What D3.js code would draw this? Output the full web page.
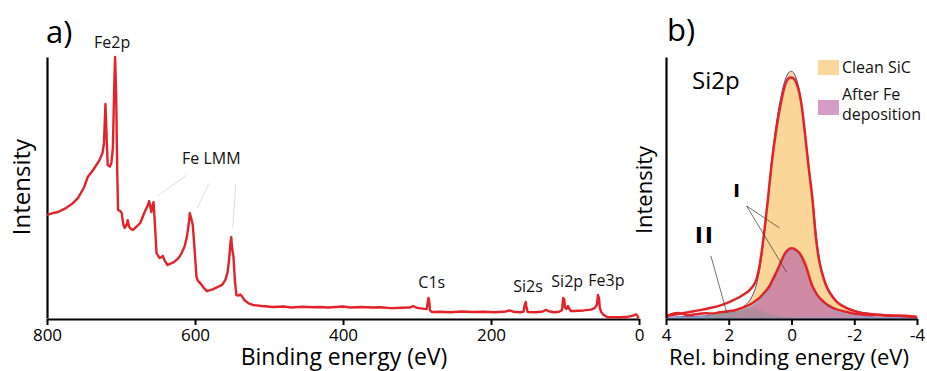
<!DOCTYPE html>
<html>
<head>
<meta charset="utf-8">
<script src="https://cdn.jsdelivr.net/npm/d3@7/dist/d3.min.js"></script>
<style>
  body { margin: 0; background: #fff; }
  svg { font-family: 'Open Sans', sans-serif; }
</style>
</head>
<body>
<svg id="chart" width="927" height="371"></svg>
<script>
// ---- panel a: survey spectrum [binding energy eV, intensity] ----
const survey = [
  [800,39.5],[792,40.2],[785,40.6],[775,42],[765,44],[758,46],[750,50],[745,54],[737,57],
  [729,60.5],[725,63.2],[723,67],[721,82],[719.5,70],[718,58.6],[715,58],[713,59.4],[711,65],
  [709,90],[708,100],[706.5,85],[705,55],[704,41.4],[701,41],[699,40.2],[697,36],[695,34.5],
  [692,36],[691,37.5],[689,35],[688,34.5],[684,33.7],[679,35],[674,36.4],[668,40.6],[664,43],
  [662,44.8],[660,42],[659,40.6],[657.5,43],[656,44.4],[654,35],[652,24.9],[648,23],[645,23.3],
  [643.5,23.8],[641,22],[637,20.3],[628,21.5],[622,23],[618,24.9],[614,27.5],[611,31],[608,37],
  [607,40.2],[605,38],[603,35.6],[601,28],[598,15.7],[596,14.2],[593,13.4],[588,11.5],[584,10.3],
  [576,11],[569,11.9],[563,12.8],[559,14.6],[556,17.5],[554,22.2],[552,29],[551,31],[550,27],
  [548,23.4],[546,14],[544,8.8],[541,8.6],[539,9],[537,8.5],[533,6.8],[528,5.7],[522,5],
  [510,4.6],[495,4.2],[480,4.4],[470,4.0],[455,4.3],[440,4.1],[431,4.2],[420,4.0],[400,4.4],
  [390,4.0],[375,4.2],[360,4.0],[350,4.1],[335,3.8],[320,3.9],[310,4.0],[305,4.6],[300,3.9],
  [290,3.5],[287,3.4],[285.5,6],[284.5,7.7],[283.5,6.5],[282.5,3],[280,2.3],[270,2.4],[255,2.2],
  [240,2.5],[225,2.3],[210,2.4],[195,2.2],[180,2.5],[175,2.9],[170,2.4],[160,2.2],[156,2.5],
  [154.5,5],[153,6.1],[152,4],[150.5,2.3],[140,2.2],[130,2.5],[126,3.1],[122,2.6],[115,2.2],
  [108,2.4],[104,3],[102.5,7.7],[101,7.2],[100,4],[98,3.5],[96,4.6],[94,3.4],[92,2.7],[88,2.7],
  [82,2.8],[75,2.9],[65,3.2],[60,3.8],[57,5],[55.5,8.8],[54,7.5],[53,4],[51,2.3],[48,1.2],
  [43,0.4],[35,0.3],[25,0.3],[15,0.5],[8,0.9],[4,1.4],[2.5,1.1],[1.5,0.3],[0,0]
];
const surveyTicks = [800, 600, 400, 200, 0];
// peak labels: [text, energy of label centre, intensity of baseline]
const surveyLabels = [
  ["Fe2p", 712, 103.5], ["Fe LMM", 578, 59], ["C1s", 280, 11.5],
  ["Si2s", 150, 10], ["Si2p", 97, 11.8], ["Fe3p", 44, 12.3]
];
const lmmLeaders = [
  [[611,54.8],[651,46.7]], [[581,51.7],[597,42.1]], [[545,51.3],[549,34.5]]
];

// ---- panel b: Si2p core level [relative binding energy eV, intensity] ----
const cleanFit = [
  [4,0.3],[3,0.6],[2.5,1],[2,1.8],[1.7,3],[1.45,5],[1.3,7],[1.15,11],[1.05,16],[0.95,23],
  [0.86,33],[0.75,46],[0.65,59],[0.51,73],[0.33,86],[0.17,93],[0.03,95],[-0.1,94],[-0.2,90],
  [-0.31,84],[-0.43,71.5],[-0.54,59],[-0.68,46],[-0.8,30],[-0.89,22],[-1.0,16.5],[-1.11,12.5],
  [-1.25,9.5],[-1.43,6.5],[-1.6,5],[-1.75,4],[-2.06,2.6],[-2.4,1.8],[-2.9,1.2],[-3.4,0.8],[-4,0.5]
];
const cleanMeasured = [
  [3.97,0.8],[3.6,1.5],[3.24,2.3],[2.9,3.0],[2.6,3.8],[2.3,4.6],[2.06,5.7],[1.85,6.8],[1.65,8.0],
  [1.45,9.5],[1.33,10.7],[1.2,12.5],[1.11,14.6],[1.02,19.5],[0.94,26],[0.86,33.7],[0.75,45.2],
  [0.65,58],[0.51,70.8],[0.33,83.5],[0.17,91.5],[0.03,92.4],[-0.1,91.8],[-0.2,89],[-0.31,83.5],
  [-0.43,70.8],[-0.54,58],[-0.68,45.2],[-0.73,36],[-0.8,28],[-0.89,21.1],[-1.0,16],[-1.11,11.9],
  [-1.25,9],[-1.43,6.1],[-1.6,4.8],[-1.75,3.8],[-2.06,2.3],[-2.4,1.6],[-2.89,1.1],[-3.4,0.9],[-3.97,0.4]
];
const ironFit = [
  [4,0.1],[3,0.3],[2.5,0.7],[2,1.4],[1.6,2.6],[1.3,4],[1.0,6.5],[0.85,9],[0.7,11.2],[0.55,15],
  [0.4,18.8],[0.27,22.8],[0.16,25],[0.05,26.2],[-0.05,26.2],[-0.15,25.5],[-0.25,24.5],[-0.37,21.8],
  [-0.48,18.8],[-0.58,14.5],[-0.67,11.2],[-0.8,8.4],[-0.95,6.3],[-1.1,4.8],[-1.3,3.2],[-1.5,2.2],
  [-1.75,1.4],[-2,0.9],[-2.5,0.4],[-3,0.2],[-4,0.1]
];
const ironMeasured = [
  [3.97,0.8],[3.9,1.1],[3.7,2.0],[3.5,1.9],[3.35,1.0],[3.2,1.1],[3.0,1.6],[2.7,1.9],[2.5,1.5],
  [2.3,2.3],[2.0,2.5],[1.75,3.1],[1.5,4.2],[1.33,5],[1.15,6.5],[1.0,7.7],[0.85,10],[0.7,11.9],
  [0.55,16],[0.4,19.5],[0.27,23.5],[0.16,25.7],[0.05,26.8],[-0.05,26.8],[-0.15,26],[-0.25,25.3],
  [-0.37,22.5],[-0.48,19.5],[-0.58,15],[-0.67,11.9],[-0.8,9],[-0.95,6.9],[-1.1,5.4],[-1.3,3.8],
  [-1.5,3],[-1.75,2.3],[-2.0,1.5],[-2.3,1.3],[-2.5,1.0],[-2.8,1.3],[-3.0,0.9],[-3.3,0.8],
  [-3.6,1.0],[-4.0,0.4]
];
const componentGreen = [[2.9,0],[2.5,1.2],[2.2,2.6],[2.0,3.1],[1.8,2.8],[1.5,1.4],[1.2,0.3],[1.0,0]];
const componentII = [
  [3,0.1],[2.5,0.8],[2.2,1.8],[2,2.6],[1.8,3.4],[1.5,4],[1.2,3.5],[1,2.8],[0.7,1.6],[0.4,0.7],[0,0.1]
];
const si2pTicks = [4, 2, 0, -2, -4];
const legendItems = [["Clean SiC", "#fbd79b"], ["After Fe|deposition", "#d49cc6"]];
const leadersI = [[[1.43,42.9],[0.38,34.5]], [[1.43,42.9],[0.16,17.6]]];
const leadersII = [[[2.57,23.8],[2.06,1.9]]];

const svg = d3.select('#chart');
const red = '#e3232a';

// ================= panel a =================
const xA = d3.scaleLinear().domain([800, 0]).range([47, 639]);
const yA = d3.scaleLinear().domain([0, 100]).range([318, 57]);

const gA = svg.append('g');
gA.append('g')
  .attr('transform', 'translate(0,319)')
  .call(d3.axisBottom(xA).tickValues(surveyTicks).tickSize(6).tickSizeOuter(0).tickPadding(4));
gA.append('g')
  .attr('transform', 'translate(47,0)')
  .call(d3.axisLeft(yA).tickValues([]).tickSizeOuter(0));

gA.selectAll('.lmm')
  .data(lmmLeaders)
  .join('line')
  .attr('x1', d => xA(d[0][0])).attr('y1', d => yA(d[0][1]))
  .attr('x2', d => xA(d[1][0])).attr('y2', d => yA(d[1][1]))
  .attr('stroke', '#d6d6d6').attr('stroke-width', 0.8);

gA.append('path')
  .datum(survey)
  .attr('fill', 'none')
  .attr('stroke', red)
  .attr('stroke-width', 2.4)
  .attr('stroke-linejoin', 'round')
  .attr('d', d3.line().x(d => xA(d[0])).y(d => yA(d[1])));

gA.selectAll('.plabel')
  .data(surveyLabels)
  .join('text')
  .attr('x', d => xA(d[1])).attr('y', d => yA(d[2]))
  .attr('text-anchor', 'middle')
  .attr('font-size', 16)
  .attr('fill', '#111')
  .text(d => d[0]);

gA.append('text').attr('x', 46).attr('y', 43).attr('font-size', 31).text('a)');
gA.append('text')
  .attr('transform', 'translate(30,187) rotate(-90)')
  .attr('text-anchor', 'middle').attr('font-size', 24).text('Intensity');
gA.append('text')
  .attr('x', 344).attr('y', 365)
  .attr('text-anchor', 'middle').attr('font-size', 23).text('Binding energy (eV)');

// ================= panel b =================
const xB = d3.scaleLinear().domain([4, -4]).range([666, 917]);
const yB = d3.scaleLinear().domain([0, 100]).range([318, 57]);
const areaB = d3.area().x(d => xB(d[0])).y0(yB(0)).y1(d => yB(d[1])).curve(d3.curveBasis);
const lineB = d3.line().x(d => xB(d[0])).y(d => yB(d[1])).curve(d3.curveBasis);

const gB = svg.append('g');

gB.append('path').datum(cleanFit).attr('fill', '#fbd699')
  .attr('stroke', '#4b4fa0').attr('stroke-width', 1).attr('d', areaB);
gB.append('path').datum(componentGreen).attr('fill', '#8fbf6a').attr('d', areaB);
gB.append('path').datum(ironFit).attr('fill', '#cf8aa3')
  .attr('stroke', '#8e9fd8').attr('stroke-width', 1.2).attr('d', areaB);
gB.append('path').datum(componentII).attr('fill', '#8f8f8f').attr('opacity', 0.45).attr('d', areaB);

[cleanMeasured, ironMeasured].forEach(s => {
  gB.append('path').datum(s)
    .attr('fill', 'none').attr('stroke', red).attr('stroke-width', 2.5)
    .attr('stroke-linejoin', 'round').attr('d', lineB);
});

gB.selectAll('.lead')
  .data(leadersI.concat(leadersII))
  .join('line')
  .attr('x1', d => xB(d[0][0])).attr('y1', d => yB(d[0][1]))
  .attr('x2', d => xB(d[1][0])).attr('y2', d => yB(d[1][1]))
  .attr('stroke', '#333').attr('stroke-width', 0.7);

gB.append('text').attr('x', xB(1.75)).attr('y', yB(46.4))
  .attr('text-anchor', 'middle').attr('font-size', 18).attr('font-weight', 900)
  .attr('font-family', "'DejaVu Sans', sans-serif").text('I');
gB.append('text').attr('x', xB(2.76)).attr('y', yB(28.7))
  .attr('text-anchor', 'middle').attr('font-size', 21).attr('font-weight', 900)
  .attr('font-family', "'DejaVu Sans', sans-serif")
  .attr('letter-spacing', 2).text('II');

gB.append('g')
  .attr('transform', 'translate(0,319)')
  .call(d3.axisBottom(xB).tickValues(si2pTicks).tickSize(6).tickSizeOuter(0).tickPadding(4)
    .tickFormat(d => String(d)));
gB.append('g')
  .attr('transform', 'translate(666,0)')
  .call(d3.axisLeft(yB).tickValues([]).tickSizeOuter(0));

const legend = gB.append('g').attr('transform', 'translate(818,60)');
legendItems.forEach((item, i) => {
  const row = legend.append('g').attr('transform', `translate(0,${i * 40})`);
  row.append('rect').attr('width', 21).attr('height', 15).attr('fill', item[1]);
  const lines = item[0].split('|');
  lines.forEach((t, j) => {
    row.append('text').attr('x', 24).attr('y', (lines.length > 1 ? 0 : 13) + j * 20)
      .attr('font-size', 16).attr('fill', '#111').text(t);
  });
});

gB.append('text').attr('x', 667).attr('y', 41).attr('font-size', 31).text('b)');
gB.append('text').attr('x', 692).attr('y', 89).attr('font-size', 24).text('Si2p');
gB.append('text')
  .attr('transform', 'translate(652,190) rotate(-90)')
  .attr('text-anchor', 'middle').attr('font-size', 22).text('Intensity');
gB.append('text')
  .attr('x', 789).attr('y', 365)
  .attr('text-anchor', 'middle').attr('font-size', 22).text('Rel. binding energy (eV)');

// axis styling
svg.selectAll('.domain').attr('stroke', '#000').attr('stroke-width', 2.2);
svg.selectAll('.tick line').attr('stroke', '#000').attr('stroke-width', 2);
svg.selectAll('.tick text').attr('font-size', 17).attr('fill', '#000')
  .attr('font-family', "'Open Sans', sans-serif");
</script>
</body>
</html>
